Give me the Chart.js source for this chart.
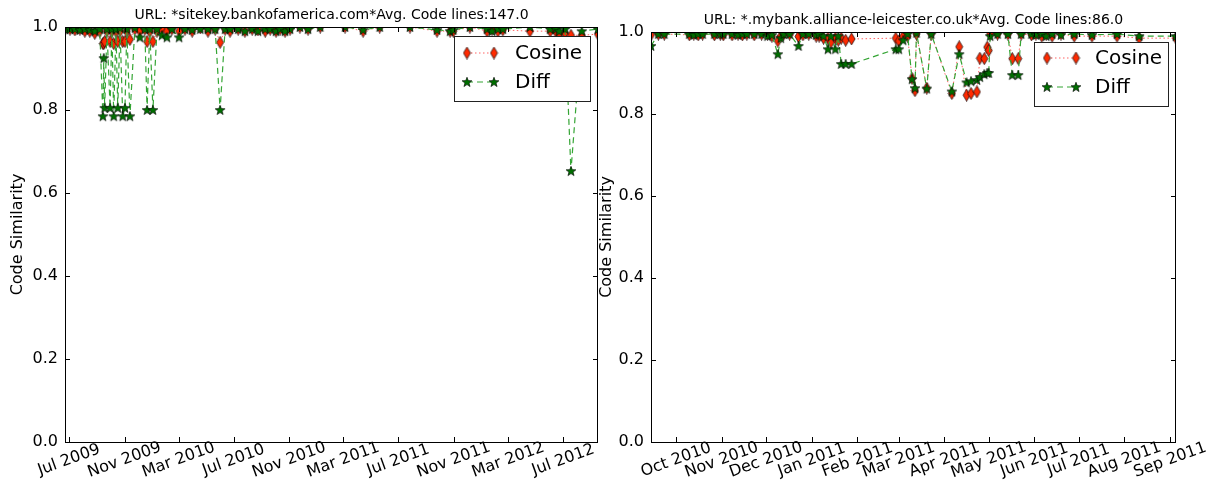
<!DOCTYPE html>
<html><head><meta charset="utf-8">
<script src="https://cdn.jsdelivr.net/npm/chart.js@4.4.1/dist/chart.umd.min.js"></script>
<style>
html,body{margin:0;padding:0;background:#fff;width:1212px;height:489px;overflow:hidden}
#c1{position:absolute;left:0;top:0}
#c2{position:absolute;left:598px;top:0}
</style></head><body>
<canvas id="c1" width="606" height="489"></canvas>
<canvas id="c2" width="614" height="489"></canvas>
<script>
// ---------- Left chart data ----------
const leftTitle = 'URL: *sitekey.bankofamerica.com*Avg. Code lines:147.0';
const leftDates = ['2009-06-22','2009-07-03','2009-07-14','2009-07-25','2009-08-05','2009-08-16','2009-08-27','2009-09-07','2009-09-14','2009-09-16',
 '2009-09-18','2009-09-23','2009-09-30','2009-10-04','2009-10-08','2009-10-13','2009-10-17','2009-10-22','2009-10-28','2009-11-02',
 '2009-11-06','2009-11-13','2009-11-24','2009-12-05','2009-12-16','2009-12-21','2009-12-27','2010-01-03','2010-01-12','2010-01-23',
 '2010-02-03','2010-02-14','2010-03-02','2010-03-15','2010-03-31','2010-04-18','2010-05-05','2010-05-21','2010-06-01','2010-06-12',
 '2010-06-23','2010-07-11','2010-07-26','2010-08-11','2010-08-24','2010-09-09','2010-09-20','2010-10-03','2010-10-12','2010-10-23',
 '2010-11-03','2010-11-25','2010-12-13','2011-01-09','2011-03-05','2011-04-14','2011-05-21','2011-07-27','2011-09-25','2011-10-24',
 '2011-10-31','2011-12-07','2012-01-14','2012-01-25','2012-02-07','2012-02-18','2012-04-18','2012-06-02','2012-06-15','2012-06-22',
 '2012-07-05','2012-07-18','2012-08-11','2012-09-16'];
const leftCosine = [0.995,0.995,0.993,0.995,0.990,0.990,0.985,0.990,0.960,0.960,
 0.965,0.990,0.965,0.990,0.960,0.990,0.965,0.990,0.965,0.965,
 0.990,0.970,0.995,0.990,0.995,0.965,0.990,0.965,0.990,0.995,
 0.990,0.995,0.990,0.995,0.990,0.998,0.990,0.995,0.963,0.995,
 0.990,0.995,0.990,0.995,0.993,0.990,0.995,0.990,0.995,0.990,
 0.995,1.000,0.995,1.000,1.000,0.990,1.000,1.000,0.990,0.990,
 0.990,1.000,0.990,0.995,0.990,0.993,0.990,0.990,0.988,0.983,
 0.985,0.980,0.980,0.983];
const leftDiff = [0.995,0.995,0.995,0.993,0.995,0.993,0.990,0.995,0.785,0.925,
 0.805,0.995,0.805,0.995,0.785,0.995,0.805,0.998,0.785,0.805,
 0.995,0.785,0.998,0.975,0.995,0.800,0.995,0.800,0.995,0.980,
 0.975,0.995,0.975,0.995,0.993,0.995,0.995,0.995,0.800,0.995,
 0.995,0.995,0.990,0.995,0.990,0.995,0.995,0.990,0.995,0.990,
 0.995,1.000,0.995,1.000,1.000,0.993,1.000,1.000,0.993,0.990,
 0.993,1.000,0.995,0.990,0.995,0.995,1.000,0.995,0.995,0.990,
 0.995,0.653,0.990,0.995];
const leftTickDates = ['2009-07-01','2009-11-01','2010-03-01','2010-07-01','2010-11-01','2011-03-01','2011-07-01','2011-11-01','2012-03-01','2012-07-01'];
const leftTickLabels = ['Jul 2009','Nov 2009','Mar 2010','Jul 2010','Nov 2010','Mar 2011','Jul 2011','Nov 2011','Mar 2012','Jul 2012'];

// ---------- Right chart data ----------
const rightTitle = 'URL: *.mybank.alliance-leicester.co.uk*Avg. Code lines:86.0';
const rightDates = ['2010-09-14','2010-09-19','2010-09-23','2010-10-10','2010-10-13','2010-10-16','2010-10-19','2010-10-27','2010-10-31','2010-11-02',
 '2010-11-08','2010-11-12','2010-11-15','2010-11-18','2010-11-23','2010-11-28','2010-12-02','2010-12-05','2010-12-09','2010-12-11',
 '2010-12-13','2010-12-17','2010-12-23','2010-12-26','2010-12-30','2011-01-04','2011-01-06','2011-01-09','2011-01-12','2011-01-14',
 '2011-01-17','2011-01-19','2011-01-21','2011-01-24','2011-01-28','2011-02-27','2011-03-01','2011-03-04','2011-03-07','2011-03-10',
 '2011-03-12','2011-03-13','2011-03-20','2011-03-23','2011-04-06','2011-04-11','2011-04-16','2011-04-19','2011-04-23','2011-04-25',
 '2011-04-28','2011-04-30','2011-05-01','2011-05-02','2011-05-07','2011-05-14','2011-05-17','2011-05-21','2011-05-23','2011-05-30',
 '2011-06-02','2011-06-06','2011-06-09','2011-06-13','2011-06-19','2011-06-28','2011-07-10','2011-07-27','2011-08-11','2011-09-05'];
const rightCosine = [0.993,0.995,0.995,0.993,0.995,0.993,0.995,0.993,0.995,0.993,
 0.993,0.995,0.993,0.995,0.993,0.995,0.995,0.990,0.978,0.990,
 0.995,0.995,0.989,0.993,0.995,0.990,0.990,0.985,0.985,0.975,
 0.985,0.980,0.985,0.980,0.983,0.985,0.978,0.990,0.990,0.887,
 0.857,0.995,0.863,0.995,0.850,0.964,0.846,0.850,0.854,0.936,
 0.935,0.963,0.955,0.995,0.995,0.995,0.935,0.935,0.995,0.993,
 0.995,0.990,0.995,0.990,0.995,0.990,0.990,0.990,0.985,0.985];
const rightDiff = [0.966,0.995,0.995,0.995,0.993,0.995,0.995,0.995,0.995,0.995,
 0.995,0.993,0.995,0.995,0.995,0.995,0.990,0.993,0.946,0.985,
 0.995,0.995,0.966,0.995,0.995,0.993,0.995,0.990,0.958,0.990,
 0.958,0.990,0.922,0.922,0.922,0.958,0.958,0.980,0.995,0.885,
 0.863,0.998,0.862,0.995,0.855,0.946,0.877,0.880,0.883,0.890,
 0.897,0.900,0.900,0.990,0.995,0.995,0.895,0.895,0.995,0.995,
 0.993,0.995,0.990,0.995,0.993,0.995,0.993,0.995,0.990,0.990];
const rightTickDates = ['2010-10-01','2010-11-01','2010-12-01','2011-01-01','2011-02-01','2011-03-01','2011-04-01','2011-05-01','2011-06-01','2011-07-01','2011-08-01','2011-09-01'];
const rightTickLabels = ['Oct 2010','Nov 2010','Dec 2010','Jan 2011','Feb 2011','Mar 2011','Apr 2011','May 2011','Jun 2011','Jul 2011','Aug 2011','Sep 2011'];

const seriesNames = ['Cosine','Diff'];
const yTicks = [0, 0.2, 0.4, 0.6, 0.8, 1.0];

// ---------- marker images ----------
function diamondImg(){
  const c=document.createElement('canvas'); c.width=9; c.height=13;
  const g=c.getContext('2d'); g.beginPath();
  g.moveTo(4.5,0.5); g.lineTo(8,6.5); g.lineTo(4.5,12.5); g.lineTo(1,6.5); g.closePath();
  g.fillStyle='#ff2a00'; g.fill(); g.lineWidth=0.7; g.strokeStyle='#000'; g.stroke(); return c;
}
function starImg(){
  const c=document.createElement('canvas'); c.width=12; c.height=12;
  const g=c.getContext('2d'); g.beginPath();
  const cx=6, cy=6.4, R=5.2, r=2.2;
  for(let i=0;i<10;i++){const a=-Math.PI/2+i*Math.PI/5; const rr=i%2?r:R; const px=cx+rr*Math.cos(a), py=cy+rr*Math.sin(a); i?g.lineTo(px,py):g.moveTo(px,py);}
  g.closePath(); g.fillStyle='#006e00'; g.fill(); g.lineWidth=0.6; g.strokeStyle='#000'; g.stroke(); return c;
}
const DIA = diamondImg(), STAR = starImg();

const decor = {
  id:'decor',
  afterDraw(chart, args, o){
    const {ctx, chartArea:a, scales:{x,y}} = chart;
    ctx.save();
    ctx.strokeStyle='#000'; ctx.lineWidth=1; ctx.setLineDash([]);
    ctx.beginPath();
    y.ticks.forEach(t=>{const py=Math.round(y.getPixelForValue(t.value))+0.5;
      ctx.moveTo(a.left,py);ctx.lineTo(a.left+5,py);ctx.moveTo(a.right,py);ctx.lineTo(a.right-5,py);});
    x.ticks.forEach(t=>{const px=Math.round(x.getPixelForValue(t.value))+0.5;
      ctx.moveTo(px,a.bottom);ctx.lineTo(px,a.bottom-5);ctx.moveTo(px,a.top);ctx.lineTo(px,a.top+5);});
    ctx.stroke();
    ctx.strokeRect(Math.round(a.left)+0.5, Math.round(a.top)+0.5, Math.round(a.right-a.left)-1, Math.round(a.bottom-a.top));
    // x tick labels
    ctx.fillStyle='#000'; ctx.font='16px "DejaVu Sans"'; ctx.textAlign='center'; ctx.textBaseline='middle';
    x.ticks.forEach(t=>{const px=x.getPixelForValue(t.value); ctx.save(); ctx.translate(px, a.bottom+18); ctx.rotate(-20*Math.PI/180); ctx.fillText(t.label,0,0); ctx.restore();});
    // title
    ctx.font='14px "DejaVu Sans"'; ctx.fillText(o.title, (a.left+a.right)/2, a.top-12);
    // y label
    ctx.save(); ctx.translate(o.ylabelX, (a.top+a.bottom)/2); ctx.rotate(-Math.PI/2); ctx.font='16px "DejaVu Sans"'; ctx.fillText('Code Similarity',0,0); ctx.restore();
    // legend
    const L=o.legend;
    ctx.fillStyle='#fff'; ctx.fillRect(L.x,L.y,L.w,L.h);
    ctx.strokeStyle='#222'; ctx.strokeRect(L.x+0.5,L.y+0.5,L.w,L.h);
    chart.data.datasets.forEach((ds,i)=>{
      const ry=L.y+L.rows[i];
      ctx.save(); ctx.strokeStyle=ds.borderColor; ctx.lineWidth=ds.borderWidth; ctx.setLineDash(ds.borderDash);
      ctx.beginPath(); ctx.moveTo(L.m1,ry); ctx.lineTo(L.m2,ry); ctx.stroke(); ctx.restore();
      const img=ds.pointStyle;
      ctx.drawImage(img, L.m1-img.width/2, ry-img.height/2);
      ctx.drawImage(img, L.m2-img.width/2, ry-img.height/2);
      ctx.fillStyle='#000'; ctx.font='20px "DejaVu Sans"'; ctx.textAlign='left'; ctx.textBaseline='middle';
      ctx.fillText(ds.label, L.tx, ry+1);
    });
    ctx.restore();
  }
};

function makeChart(id, dates, cos, diff, tickDates, tickLabels, o){
  const xs = dates.map(d=>Date.parse(d));
  const tv = tickDates.map(d=>Date.parse(d));
  return new Chart(document.getElementById(id), {
    type:'line',
    data:{datasets:[
      {label:seriesNames[0], data:xs.map((x,i)=>({x, y:cos[i]})), borderColor:'rgba(255,60,60,0.8)', borderWidth:1, borderDash:[1.5,2.5],
       pointStyle:DIA, pointRadius:5, pointHoverRadius:5, tension:0, fill:false, order:1},
      {label:seriesNames[1], data:xs.map((x,i)=>({x, y:diff[i]})), borderColor:'#35a535', borderWidth:1.2, borderDash:[6,4],
       pointStyle:STAR, pointRadius:5, pointHoverRadius:5, tension:0, fill:false, order:0}
    ]},
    options:{
      responsive:false, animation:false, events:[],
      layout:{padding:o.padding},
      plugins:{legend:{display:false}, tooltip:{enabled:false}, title:{display:false}, decor:o},
      scales:{
        x:{type:'linear', min:Math.min(...xs), max:Math.max(...xs),
           afterBuildTicks:s=>{s.ticks=tv.map(v=>({value:v}));},
           ticks:{display:false, callback:(v,i)=>tickLabels[i]},
           grid:{display:false, drawTicks:false}, border:{display:false},
           afterFit:s=>{s.height=47;}},
        y:{type:'linear', min:0, max:1,
           afterBuildTicks:s=>{s.ticks=yTicks.map(v=>({value:v}));},
           ticks:{padding:7, color:'#000', font:{family:'DejaVu Sans', size:16}, callback:v=>v.toFixed(1)},
           grid:{display:false, drawTicks:false}, border:{display:false},
           afterFit:s=>{s.width=o.yw;}}
      }
    },
    plugins:[decor]
  });
}

makeChart('c1', leftDates, leftCosine, leftDiff, leftTickDates, leftTickLabels, {
  title:leftTitle, ylabelX:18, yw:65, padding:{left:0, top:27, right:8, bottom:0},
  legend:{x:454, y:36, w:136, h:65, rows:[17,46], m1:467, m2:494, tx:515}
});
makeChart('c2', rightDates, rightCosine, rightDiff, rightTickDates, rightTickLabels, {
  title:rightTitle, ylabelX:9, yw:53, padding:{left:0, top:32, right:36, bottom:0},
  legend:{x:436, y:42, w:134, h:64, rows:[16,45], m1:449, m2:478, tx:497}
});
</script>
</body></html>
